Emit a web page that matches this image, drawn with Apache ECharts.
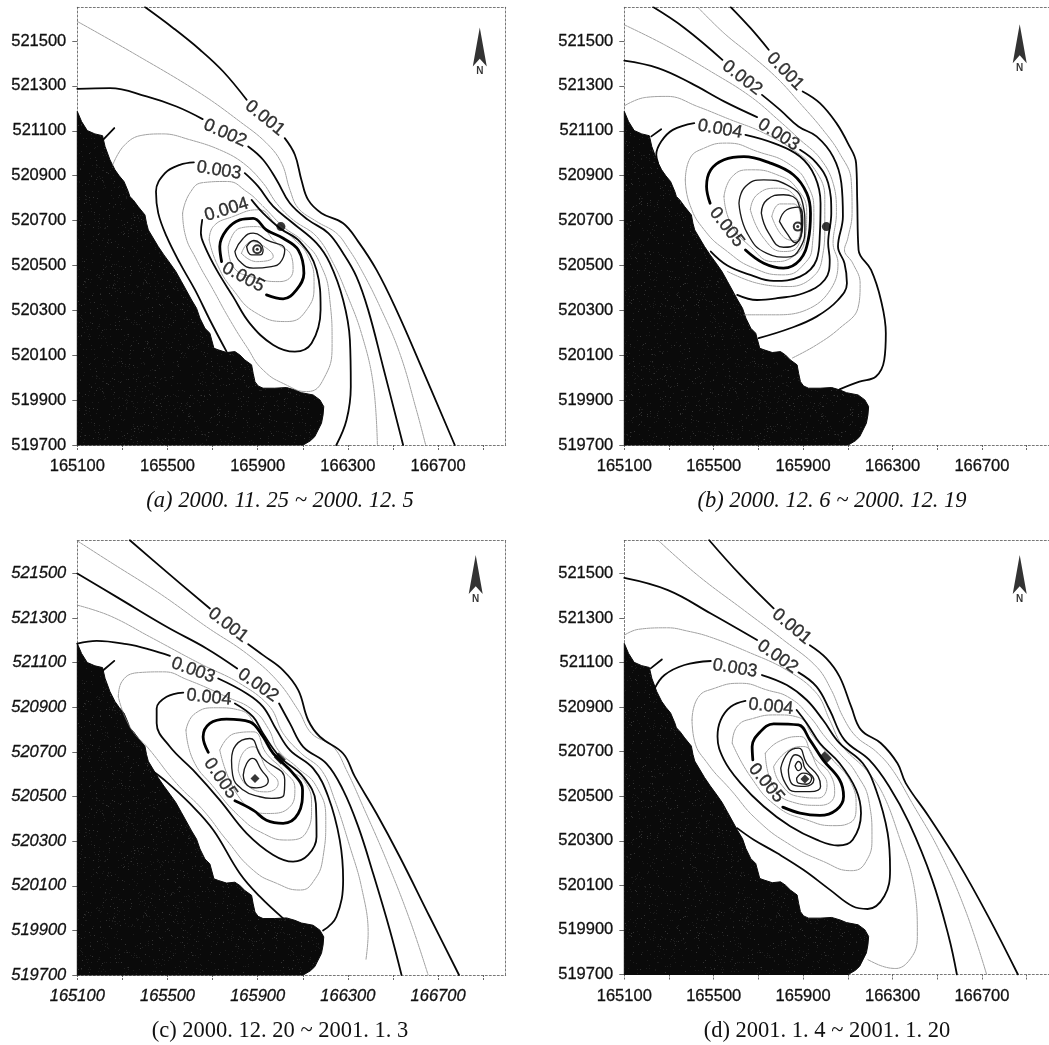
<!DOCTYPE html>
<html><head><meta charset="utf-8">
<style>html,body{margin:0;padding:0;background:#fff;overflow:hidden}#c{width:1049px;height:1045px}</style>
<script src="https://cdn.jsdelivr.net/npm/echarts@6/dist/echarts.min.js"></script>
</head><body><div id="c"></div>
<script>
const xMin=165100,xMax=167000,yMin=519700,yMax=521650;
const xLabels=[165100,165500,165900,166300,166700];
const xTicks=[165100,165300,165500,165700,165900,166100,166300,166500,166700,166900];
const yLabels=[519700,519900,520100,520300,520500,520700,520900,521100,521300,521500];
const levels=['0.001','0.002','0.003','0.004','0.005'];
const captions=['(a) 2000. 11. 25 ~ 2000. 12. 5','(b) 2000. 12. 6 ~ 2000. 12. 19','(c) 2000. 12. 20 ~ 2001. 1. 3','(d) 2001. 1. 4 ~ 2001. 1. 20'];
const coastline=[[165100,521186],[165119,521141],[165144,521101],[165178,521086],[165212,521078],[165223,521030],[165245,520970],[165267,520926],[165286,520899],[165307,520874],[165326,520829],[165333,520807],[165348,520792],[165370,520762],[165400,520725],[165407,520688],[165415,520658],[165459,520584],[165484,520547],[165511,520510],[165537,520473],[165562,520428],[165607,520346],[165629,520309],[165644,520265],[165666,520220],[165688,520198],[165706,520131],[165725,520124],[165762,520112],[165799,520116],[165821,520101],[165843,520079],[165873,520057],[165880,520019],[165888,519982],[165902,519963],[165924,519953],[165976,519953],[166028,519956],[166065,519945],[166094,519933],[166146,519923],[166176,519901],[166193,519871],[166190,519834],[166183,519797],[166153,519737],[166134,519719],[166102,519700],[165100,519700]];

// panel (a)
const aBold=[
[[165400,521651],[165526,521557],[165644,521461],[165747,521364],[165851,521238]],
[[166020,521067],[166065,520993],[166094,520881],[166124,520792],[166183,520733],[166279,520688],[166346,520606],[166427,520480],[166515,520302],[166619,520064],[166774,519700]],
[[165100,521287],[165245,521290],[165407,521253],[165540,521208],[165656,521152]],
[[165858,521030],[165924,520971],[165984,520881],[166043,520777],[166124,520703],[166213,520644],[166279,520554],[166338,520450],[166390,520302],[166456,520049],[166545,519700]],
[[166249,519700],[166294,519811],[166313,519960],[166309,520168],[166279,520346],[166220,520510],[166161,520599],[166057,520688],[165969,520763],[165902,520852],[165843,520911]],
[[165617,520959],[165555,520948],[165489,520911],[165449,520829],[165459,520733],[165496,520629],[165555,520510],[165622,520391],[165688,520257],[165762,520116]],
[[165873,520792],[165924,520733],[165998,520666],[166087,520606],[166161,520480],[166179,520302],[166139,520153],[166065,520116],[165969,520146],[165865,520242],[165791,520361],[165718,520480],[165666,520584],[165648,520644],[165654,520703]],
[[165215,521060],[165264,521112]]];
const aHeavy=[[[165939,520369],[166013,520351],[166072,520391],[166105,520465],[166080,520569],[166013,520621],[165939,520658],[165880,520710],[165821,520703],[165762,520658],[165732,520584],[165740,520517]]];
const aThin=[
[[165100,521587],[165348,521446],[165644,521268],[165821,521141],[165939,521045],[166006,520956],[166043,520837],[166080,520755],[166161,520696],[166249,520644],[166301,520577],[166360,520480],[166442,520317],[166530,520109],[166604,519856],[166645,519700]],
[[165257,520948],[165304,521030],[165378,521078],[165481,521086],[165599,521060],[165732,521015],[165836,520956],[165924,520867],[165984,520777],[166057,520703],[166161,520629],[166235,520510],[166294,520376],[166360,520198],[166412,519975],[166431,519700]]];
const aThinLoops=[
[[165567,520733],[165577,520644],[165629,520525],[165703,520391],[165777,520257],[165851,520138],[165924,520034],[166028,519967],[166117,519938],[166190,519990],[166230,520153],[166220,520346],[166176,520510],[166102,520606],[166013,520673],[165924,520763],[165851,520829],[165762,520874],[165658,520869],[165599,520822]],
[[165685,520614],[165718,520510],[165791,520391],[165895,520287],[166028,520250],[166117,520302],[166150,520421],[166124,520540],[166057,520621],[165984,520681],[165902,520748],[165791,520718],[165703,520673]],
[[165769,520584],[165791,520495],[165895,520443],[165998,520428],[166057,520480],[166050,520540],[165984,520599],[165895,520673],[165821,520666]],
[[165828,520554],[165873,520606],[165939,520577],[165969,520540],[165895,520517]]];
const aDarkLoops=[
[[165799,520562],[165836,520621],[165880,520644],[165939,520614],[166020,520569],[165998,520510],[165961,520495],[165880,520488],[165821,520517]],
[[165851,520584],[165883,520611],[165924,520569],[165910,520547],[165873,520547]]];
const aLabels=[[165932,521156],[165755,521089],[165728,520923],[165762,520748],[165836,520447]];
const aRotations=[-39,-24,-9,17,-28];
const aSource=[166003,520673], aPeak=[165898,520572], aNorth=[166885,521473];

// panel (b)
const bBold=[
[[165576,521651],[165664,521558],[165746,521461]],
[[165898,521275],[165975,521223],[166049,521134],[166100,521045],[166137,520956],[166142,520792],[166148,520569],[166204,520480],[166248,520346],[166270,520198],[166263,520079],[166226,520005],[166152,519982],[166063,519948]],
[[165229,521651],[165369,521558],[165539,521416]],
[[165716,521260],[165797,521193],[165879,521119],[165960,521075],[166034,520985],[166071,520867],[166078,520718],[166056,520584],[166085,520510],[166096,520421],[166056,520346],[165960,520272],[165842,520220],[165701,520176]],
[[165100,521412],[165251,521379],[165398,521312],[165546,521231],[165694,521161]],
[[165886,521015],[165960,520956],[166012,520867],[166026,520733],[166012,520599],[166019,520525],[165997,520436],[165901,520376],[165783,520354],[165694,520346],[165605,520369]],
[[165251,520956],[165243,520993],[165265,521052],[165317,521104],[165413,521134]],
[[165642,521082],[165768,521045],[165886,520985],[165953,520896],[165978,520777],[165975,520644],[165960,520525],[165886,520450],[165768,520431],[165664,520458],[165561,520500],[165487,520562]],
[[165221,521075],[165265,521107]]];
const bHeavy=[[[165484,520777],[165468,520852],[165487,520926],[165546,520971],[165635,520985],[165753,520956],[165856,520904],[165916,520822],[165933,520733],[165923,520614],[165886,520525],[165812,520488],[165724,520510],[165642,520569]]];
const bThin=[
[[165428,521651],[165546,521535],[165664,521439],[165783,521335],[165886,521223],[165989,521104],[166063,521000],[166115,520881],[166119,520733],[166100,520621],[166085,520569],[166122,520510],[166155,520421],[166145,520309],[166063,520220],[165960,520146],[165849,520086]],
[[165100,521572],[165280,521483],[165487,521364],[165664,521253],[165797,521141],[165886,521060],[165975,520978],[166034,520867],[166049,520733],[166034,520599],[166056,520510],[166026,520398],[165930,520309],[165783,520280],[165635,520280]],
[[165100,521211],[165192,521248],[165295,521253],[165428,521208],[165576,521149],[165709,521097],[165856,521015],[165953,520926],[165997,520807],[165997,520673],[165989,520554],[165953,520458],[165842,520406],[165694,520421],[165561,520473]]];
const bThinLoops=[
[[165373,520881],[165391,520971],[165458,521023],[165561,521045],[165694,521008],[165842,520948],[165923,520852],[165948,520733],[165942,520599],[165908,520510],[165812,520458],[165679,520488],[165561,520562],[165458,520658],[165391,520777]],
[[165546,520807],[165583,520896],[165664,520926],[165783,520904],[165871,520844],[165916,520733],[165908,520614],[165856,520540],[165768,520517],[165664,520584],[165576,520688]],
[[165664,520748],[165694,520815],[165783,520844],[165864,520807],[165898,520703],[165879,520592],[165812,520562],[165724,520621]],
[[165760,520718],[165797,520774],[165856,520774],[165890,520688],[165864,520611],[165820,520621]]];
const bDarkLoops=[
[[165613,520777],[165642,520852],[165724,520881],[165827,520859],[165898,520777],[165908,520673],[165886,520577],[165827,520537],[165738,520554],[165650,520644]],
[[165713,520733],[165738,520792],[165812,520815],[165879,520777],[165893,520673],[165871,520599],[165812,520581],[165746,520644]],
[[165794,520696],[165827,520748],[165879,520760],[165898,520688],[165864,520602],[165827,520644]]];
const bLabels=[[165820,521364],[165627,521335],[165790,521082],[165528,521107],[165558,520670]];
const bRotations=[-46,-38,-32,-10,-52];
const bSource=[166004,520673], bPeak=[165876,520673], bNorth=[166869,521488];

// panel (c)
const cBold=[
[[165333,521649],[165496,521507],[165688,521343]],
[[165858,521183],[165924,521134],[166013,521066],[166080,520977],[166124,520842],[166176,520768],[166279,520693],[166331,520589],[166427,520424],[166530,520230],[166663,519961],[166793,519700]],
[[165100,521500],[165274,521395],[165496,521261],[165673,521164],[165809,521074]],
[[165995,520917],[166043,520828],[166102,520723],[166205,520648],[166279,520529],[166346,520365],[166412,520155],[166486,519902],[166538,519700]],
[[165100,521186],[165186,521198],[165319,521183],[165422,521159],[165511,521131]],
[[165725,521029],[165851,520962],[165924,520902],[165984,520798],[166043,520708],[166146,520626],[166213,520499],[166264,520305],[166279,520126],[166249,519961],[166190,519899]],
[[166013,519954],[165910,520051],[165821,520155],[165703,520350],[165599,520469],[165496,520566],[165429,520618]],
[[165799,520917],[165880,520857],[165924,520783],[165998,520678],[166102,520589],[166158,520469],[166161,520320],[166124,520238],[166057,520208],[165969,520238],[165851,520335],[165732,520484],[165614,520618],[165511,520723],[165452,520828],[165452,520895],[165496,520947],[165570,520966]],
[[165215,521066],[165264,521108]]];
const cHeavy=[[[165681,520698],[165658,520768],[165688,520828],[165762,520847],[165865,520835],[165924,520768],[165969,520693],[166057,520604],[166099,520529],[166080,520424],[166013,520380],[165939,520394],[165880,520439],[165799,520481]]];
const cThin=[
[[165100,521646],[165245,521552],[165466,521410],[165673,521261],[165851,521141],[165984,521022],[166080,520887],[166139,520783],[166235,520723],[166294,520618],[166368,520454],[166471,520215],[166575,519946],[166656,519700]],
[[165100,521358],[165245,521310],[165422,521216],[165644,521096],[165821,521007],[165954,520902],[166013,520783],[166094,520693],[166183,520618],[166242,520484],[166309,520275],[166360,520096],[166390,519887],[166380,519767]]];
const cThinLoops=[
[[165282,520947],[165297,521014],[165378,521056],[165481,521059],[165585,521025],[165762,520947],[165880,520887],[165947,520805],[165991,520708],[166072,520633],[166161,520544],[166202,520394],[166190,520230],[166146,520118],[166087,520081],[165984,520111],[165880,520170],[165762,520305],[165658,520439],[165540,520559],[165422,520708],[165333,520813]],
[[165582,520798],[165622,520872],[165718,520898],[165821,520887],[165895,520813],[165954,520708],[166028,520626],[166109,520566],[166139,520454],[166117,520342],[166028,520305],[165924,520335],[165821,520409],[165703,520544],[165614,520663]],
[[165732,520708],[165799,520783],[165880,520790],[165939,520693],[166013,520618],[166065,520536],[166043,520454],[165939,520424],[165821,520492]],
[[165814,520618],[165833,520693],[165880,520723],[165939,520626],[165991,520559],[165939,520521],[165851,520551]]];
const cDarkLoops=[
[[165784,520663],[165803,520730],[165865,520760],[165917,520678],[166020,520574],[166016,520506],[165961,520492],[165910,520499],[165836,520529],[165789,520596]],
[[165836,520596],[165851,520648],[165877,520671],[165917,520618],[165947,520571],[165895,520539],[165854,520551]]];
const cLabels=[[165769,521268],[165902,520999],[165614,521066],[165684,520944],[165735,520581]];
const cRotations=[-38,-35,-20,-6,-55];
const cSource=[165998,520671], cPeak=[165888,520581], cNorth=[166867,521495];

// panel (d)
const dBold=[
[[165480,521649],[165620,521492],[165768,521343]],
[[165930,521178],[166004,521119],[166063,521037],[166115,520902],[166159,520798],[166248,520738],[166322,520648],[166359,520559],[166462,520409],[166595,520200],[166728,519961],[166861,519700]],
[[165100,521480],[165295,521425],[165487,521320],[165694,521201]],
[[165879,521056],[165960,520992],[166019,520887],[166085,520753],[166196,520663],[166285,520544],[166374,520380],[166477,520126],[166551,519872],[166588,519700]],
[[165236,520984],[165280,521044],[165369,521089],[165487,521107]],
[[165716,521044],[165827,520999],[165916,520932],[165989,520842],[166063,520738],[166167,520648],[166226,520529],[166278,520335],[166289,520170],[166263,520051],[166189,519994],[166122,520006],[166019,520081],[165901,520170],[165783,520245],[165679,520305],[165605,520357]],
[[165871,520887],[165916,520828],[165975,520738],[166063,520648],[166137,520529],[166159,520424],[166122,520305],[166056,520279],[165960,520305],[165842,520365],[165724,520454],[165620,520559],[165546,520663],[165517,520768],[165531,520842],[165576,520902],[165642,520928]],
[[165218,521074],[165268,521114]]];
const dHeavy=[[[165675,520663],[165672,520723],[165709,520790],[165768,520825],[165879,520820],[165930,520753],[165989,520663],[166063,520574],[166081,520499],[166049,520439],[165975,520414],[165886,520424],[165809,520451]]];
const dThin=[
[[165251,521649],[165428,521492],[165635,521335],[165812,521201],[165960,521081],[166026,520977],[166078,520857],[166137,520768],[166226,520701],[166300,520618],[166388,520469],[166507,520260],[166625,519991],[166721,519700]],
[[165100,521223],[165162,521249],[165295,521256],[165384,521241],[165480,521216],[165650,521149],[165827,521066],[165960,520962],[166019,520842],[166078,520723],[166182,520618],[166255,520514],[166329,520320],[166396,520096],[166411,519872],[166388,519782],[166315,519727],[166255,519737],[166189,519767]]];
const dThinLoops=[
[[165403,520842],[165428,520940],[165502,520984],[165620,521007],[165738,520977],[165842,520940],[165930,520857],[165997,520768],[166063,520693],[166137,520604],[166196,520469],[166208,520320],[166182,520208],[166115,520166],[165989,520208],[165842,520282],[165694,520394],[165576,520529],[165472,520648],[165413,520753]],
[[165583,520738],[165605,520813],[165679,520850],[165783,520865],[165879,520854],[165945,520768],[166026,520671],[166115,520559],[166137,520454],[166108,520380],[166034,520368],[165916,520394],[165783,520454],[165664,520589]],
[[165731,520693],[165790,520745],[165886,520768],[165945,520678],[166026,520589],[166041,520514],[165975,520459],[165842,520477],[165760,520559]],
[[165768,520633],[165827,520701],[165901,520723],[165967,520626],[166007,520551],[165967,520492],[165879,520499],[165797,520559]]];
const dDarkLoops=[
[[165800,520626],[165834,520698],[165879,520716],[165916,520648],[165967,520589],[165978,520544],[165930,520521],[165864,520521],[165820,520559]],
[[165834,520618],[165864,520686],[165893,520671],[165908,520626],[165948,520574],[165908,520544],[165856,520551]],
[[165864,520636],[165879,520656],[165893,520633],[165879,520615]],
[[165871,520581],[165901,520604],[165938,520581],[165916,520554],[165879,520559]]];
const dLabels=[[165849,521261],[165786,521126],[165595,521074],[165756,520902],[165735,520559]];
const dRotations=[-40,-35,-9,-6,-50];
const dSource=[166001,520675], dPeak=[165908,520577], dNorth=[166869,521495];

const panels=[
 {bold:aBold,heavy:aHeavy,thin:aThin,thinLoops:aThinLoops,darkLoops:aDarkLoops,labels:aLabels,rot:aRotations,source:aSource,peak:aPeak,north:aNorth,left:77.3,top:7.3,h:437.7,srcSym:'circle',ring:true,capX:275,capY:498,capStyle:'italic',axisStyle:'normal'},
 {bold:bBold,heavy:bHeavy,thin:bThin,thinLoops:bThinLoops,darkLoops:bDarkLoops,labels:bLabels,rot:bRotations,source:bSource,peak:bPeak,north:bNorth,left:624.3,top:7.3,h:437.7,srcSym:'circle',ring:true,capX:827,capY:498,capStyle:'italic',axisStyle:'normal'},
 {bold:cBold,heavy:cHeavy,thin:cThin,thinLoops:cThinLoops,darkLoops:cDarkLoops,labels:cLabels,rot:cRotations,source:cSource,peak:cPeak,north:cNorth,left:77.3,top:540,h:435,srcSym:'rect',ring:false,capX:275,capY:1028,capStyle:'normal',axisStyle:'italic'},
 {bold:dBold,heavy:dHeavy,thin:dThin,thinLoops:dThinLoops,darkLoops:dDarkLoops,labels:dLabels,rot:dRotations,source:dSource,peak:dPeak,north:dNorth,left:624.3,top:540,h:434.5,srcSym:'rect',ring:false,capX:822,capY:1028,capStyle:'normal',axisStyle:'normal'}
];
const gridWidth=428.4;
const sans='"Liberation Sans",Arial,sans-serif', serif='"Liberation Serif","Times New Roman",serif';
const closeLoop=s=>s.concat([s[0]]);

// fine speckled fill for the land mass (deterministic texture, not data)
function speckle(){
  const c=document.createElement('canvas');c.width=c.height=211;
  const g=c.getContext('2d');g.fillStyle='#0a0a0a';g.fillRect(0,0,211,211);
  let h=12345;
  const next=()=>{h=(h*16807)%2147483647;return h;};
  for(let i=0;i<1800;i++){
    const x=next()%211,y=next()%211,t=next()%10;
    g.fillStyle=t<8?'#1e1e1e':'#343434';g.fillRect(x,y,1,1);
  }
  return c;
}
const landFill={image:speckle(),repeat:'repeat'};

const grid=[],xAxis=[],yAxis=[],series=[],title=[];
const frame={type:[2,2],width:0.8,color:'#555'};
panels.forEach((p,i)=>{
  grid.push({left:p.left,top:p.top,width:gridWidth,height:p.h,show:false});
  const ls={color:'#111',fontFamily:sans,fontSize:16.5,fontStyle:p.axisStyle,textBorderColor:'#111',textBorderWidth:0.3};
  xAxis.push({type:'value',gridIndex:i,min:xMin,max:xMax,position:'bottom',splitLine:{show:false},
    axisLine:{show:true,onZero:false,lineStyle:frame},
    axisTick:{show:true,length:6,customValues:xTicks,lineStyle:{color:'#444',width:0.8,type:[2,1]}},
    axisLabel:{show:true,customValues:xLabels,margin:13,formatter:v=>String(v),...ls}});
  xAxis.push({type:'value',gridIndex:i,min:xMin,max:xMax,position:'top',splitLine:{show:false},
    axisLine:{show:true,onZero:false,lineStyle:frame},axisTick:{show:false},axisLabel:{show:false}});
  yAxis.push({type:'value',gridIndex:i,min:yMin,max:yMax,position:'left',splitLine:{show:false},
    axisLine:{show:true,onZero:false,lineStyle:frame},
    axisTick:{show:true,length:5,customValues:yLabels,lineStyle:{color:'#444',width:0.8}},
    axisLabel:{show:true,customValues:yLabels,margin:11,formatter:v=>String(v),...ls}});
  yAxis.push({type:'value',gridIndex:i,min:yMin,max:yMax,position:'right',splitLine:{show:false},
    axisLine:{show:true,onZero:false,lineStyle:frame},axisTick:{show:false},axisLabel:{show:false}});
  const ax={xAxisIndex:i*2,yAxisIndex:i*2};
  series.push({type:'custom',...ax,coordinateSystem:'cartesian2d',data:coastline,z:1,silent:true,
    renderItem:(params,api)=>params.dataIndex===0?{type:'polygon',
      shape:{points:coastline.map(pt=>api.coord(pt))},style:{fill:landFill,stroke:'#0a0a0a',lineWidth:1}}:null});
  const line=(d,color,width,type,smooth)=>series.push({type:'line',...ax,data:d,smooth:smooth,showSymbol:false,symbol:'none',z:3,silent:true,clip:true,
    lineStyle:{color:color,width:width,type:type,cap:'round',join:'round'}});
  p.thin.forEach(s=>line(s,'#808080',0.75,[3,1],0.4));
  p.thinLoops.forEach(s=>line(closeLoop(s),'#808080',0.75,[3,1],0.5));
  p.darkLoops.forEach(s=>line(closeLoop(s),'#1a1a1a',1.35,'solid',0.5));
  p.bold.forEach(s=>line(s,'#080808',1.8,'solid',0.4));
  p.heavy.forEach(s=>line(s,'#000',2.8,'solid',0.4));
  // contour labels
  series.push({type:'scatter',...ax,z:5,silent:true,symbol:'circle',symbolSize:1,itemStyle:{color:'transparent'},
    data:p.labels.map((v,k)=>({value:v,label:{show:true,position:'inside',rotate:p.rot[k],formatter:levels[k],
      color:'#000',fontFamily:sans,fontSize:18,textBorderColor:'#000',textBorderWidth:0.35}}))});
  // pumping source and concentration peak
  series.push({type:'scatter',...ax,z:6,silent:true,data:[p.source],symbol:p.srcSym,symbolSize:p.srcSym==='rect'?[10,7]:9,symbolRotate:p.srcSym==='rect'?-45:0,itemStyle:{color:'#050505'}});
  series.push({type:'scatter',...ax,z:6,silent:true,data:[p.peak],symbol:p.ring?'emptyCircle':'diamond',symbolSize:p.ring?8:9,
    itemStyle:p.ring?{color:'#000',borderColor:'#000',borderWidth:1.6}:{color:'#050505'}});
  if(p.ring) series.push({type:'scatter',...ax,z:7,silent:true,data:[p.peak],symbol:'circle',symbolSize:3,itemStyle:{color:'#000'}});
  // north arrow
  series.push({type:'scatter',...ax,z:6,silent:true,data:[p.north],symbol:'path://M10,0 L20,40 L10,32 L0,40 Z',symbolSize:[14,39],symbolKeepAspect:false,
    itemStyle:{color:'#000'},label:{show:true,position:'bottom',distance:0,formatter:'N',fontFamily:sans,fontSize:10,fontWeight:'bold',color:'#000'}});
  title.push({text:captions[i],left:p.capX,top:p.capY-13,textAlign:'center',
    textStyle:{fontFamily:serif,fontSize:22.5,fontWeight:'normal',fontStyle:p.capStyle,color:'#111'}});
});
const chart=echarts.init(document.getElementById('c'),null,{renderer:'canvas',width:1049,height:1045});
chart.setOption({animation:false,backgroundColor:'#fff',title,grid,xAxis,yAxis,series});
</script></body></html>
